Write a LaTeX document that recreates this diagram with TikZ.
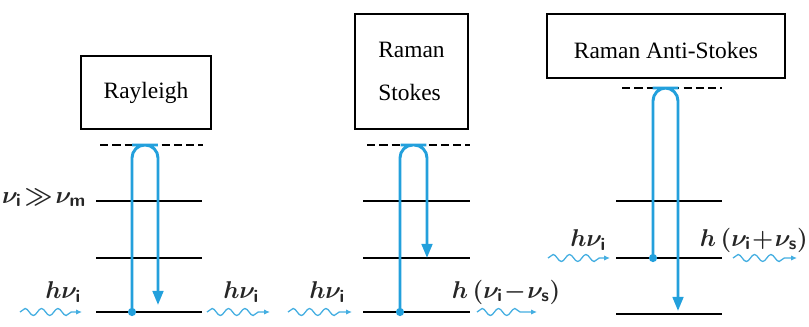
\documentclass[tikz,border=0pt]{standalone}
\usepackage{amsmath,amssymb}
\usepackage{fontspec}
\setmainfont{Liberation Serif}
\usepackage{xcolor}
\usetikzlibrary{arrows.meta,decorations.pathmorphing,positioning}

\definecolor{photon}{RGB}{35,160,220}
\newcommand{\sub}[1]{\textsf{\textbf{#1}}}

\begin{document}
\begin{tikzpicture}[x=0.03cm, y=-0.03cm,
  title/.style={rectangle, draw, line width=1pt, font=\fontsize{20}{36}\selectfont, inner sep=0pt},
  level/.style={draw, line width=1.2pt},
  virtual/.style={draw, line width=1.2pt, dash pattern=on 7pt off 3.5pt},
  transition/.style={draw=photon, line width=2.5pt, rounded corners=11pt, -{Triangle[length=12pt, width=9pt]}},
  photonline/.style={draw=photon!85, line width=1.1pt, decorate, decoration={snake, amplitude=3pt, segment length=14pt, post length=8pt}, -{Latex[length=5pt, width=4.5pt]}},
  energy/.style={font=\fontsize{22}{26}\selectfont\boldmath, text=black!85, inner sep=0pt},
  dot/.style={circle, fill=photon, inner sep=0pt, minimum size=7pt}]

  \useasboundingbox (0,0) rectangle (809,326);

  % Boxes
  \node [title, minimum width=3.9cm, minimum height=2.19cm] (rayleigh) at (146,92.5) {Rayleigh};
  \node [title, minimum width=3.39cm, minimum height=3.45cm, align=left] (stokes) at (411.5,71.5) {Raman\\Stokes};
  \node [title, minimum width=7.14cm, minimum height=1.92cm, text height=22pt, text depth=0pt] (anti) at (666,46) {Raman Anti-Stokes};

  % Levels: Rayleigh
  \coordinate (rv1) at (100,145); \coordinate (rv2) at (203,145);
  \coordinate (ra1) at (96,201);  \coordinate (ra2) at (202,201);
  \coordinate (rb1) at (96,258);  \coordinate (rb2) at (202,258);
  \coordinate (rg1) at (96,312);  \coordinate (rg2) at (202,312);
  \path [virtual] (rv1) -- (rv2);
  \path [level] (ra1) -- (ra2);
  \path [level] (rb1) -- (rb2);
  \path [level] (rg1) -- (rg2);

  % Levels: Stokes
  \coordinate (sv1) at (367,145); \coordinate (sv2) at (470,145);
  \coordinate (sa1) at (363,201); \coordinate (sa2) at (470,201);
  \coordinate (sb1) at (363,258); \coordinate (sb2) at (470,258);
  \coordinate (sg1) at (363,312); \coordinate (sg2) at (470,312);
  \path [virtual] (sv1) -- (sv2);
  \path [level] (sa1) -- (sa2);
  \path [level] (sb1) -- (sb2);
  \path [level] (sg1) -- (sg2);

  % Levels: Anti-Stokes
  \coordinate (av1) at (622,88);  \coordinate (av2) at (722,88);
  \coordinate (aa1) at (616,201); \coordinate (aa2) at (722,201);
  \coordinate (ab1) at (616,258); \coordinate (ab2) at (722,258);
  \coordinate (ag1) at (616,314); \coordinate (ag2) at (722,314);
  \path [virtual] (av1) -- (av2);
  \path [level] (aa1) -- (aa2);
  \path [level] (ab1) -- (ab2);
  \path [level] (ag1) -- (ag2);

  % Transitions
  \node [dot] (rdot) at (132,312) {};
  \coordinate (rtop) at (145,145); \coordinate (rtip) at (158,305);
  \path [transition] (rdot.center) |- (rtop) -| (rtip);

  \node [dot] (sdot) at (400,312) {};
  \coordinate (stop) at (413.5,145); \coordinate (stip) at (427,258);
  \path [transition] (sdot.center) |- (stop) -| (stip);

  \node [dot] (adot) at (653,258) {};
  \coordinate (atop) at (665.5,88); \coordinate (atip) at (678,311);
  \path [transition] (adot.center) |- (atop) -| (atip);

  % Photons
  \coordinate (rin1) at (20,312);  \coordinate (rin2) at (82,312);
  \coordinate (rout1) at (207,312); \coordinate (rout2) at (270,312);
  \coordinate (sin1) at (288,312); \coordinate (sin2) at (352,312);
  \coordinate (sout1) at (477,312); \coordinate (sout2) at (537,312);
  \coordinate (ain1) at (548,258); \coordinate (ain2) at (610,258);
  \coordinate (aout1) at (733,258); \coordinate (aout2) at (797,258);
  \path [photonline] (rin1) -- (rin2);
  \path [photonline] (rout1) -- (rout2);
  \path [photonline] (sin1) -- (sin2);
  \path [photonline] (sout1) -- (sout2);
  \path [photonline] (ain1) -- (ain2);
  \path [photonline] (aout1) -- (aout2);

  % Labels
  \node [energy] (cond) at (44,198) {$\nu_{\sub{i}}\!\gg\!\nu_{\sub{m}}$};
  \node [energy] (rinl) at (63,292) {$h\nu_{\sub{i}}$};
  \node [energy] (routl) at (241,292) {$h\nu_{\sub{i}}$};
  \node [energy] (sinl) at (327,292) {$h\nu_{\sub{i}}$};
  \node [energy] (soutl) at (506,292) {$h\,(\nu_{\sub{i}}\!-\!\nu_{\sub{s}})$};
  \node [energy] (ainl) at (588,240) {$h\nu_{\sub{i}}$};
  \node [energy, anchor=east] (aoutl) at (808,240) {$h\,(\nu_{\sub{i}}\!+\!\nu_{\sub{s}})$};

\end{tikzpicture}
\end{document}
